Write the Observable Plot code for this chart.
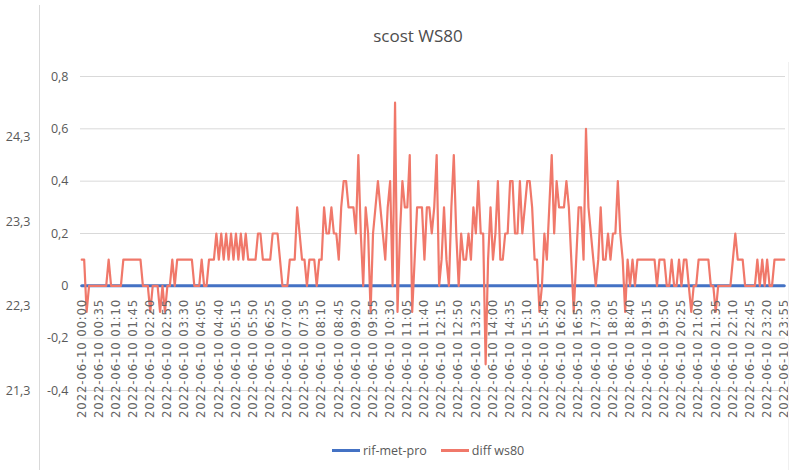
<!DOCTYPE html>
<html>
<head>
<meta charset="utf-8">
<script src="https://cdn.jsdelivr.net/npm/d3@7"></script>
<script src="https://cdn.jsdelivr.net/npm/@observablehq/plot@0.6"></script>
<style>
  body { margin: 0; background: #fff; }
  #wrap { position: relative; width: 798px; height: 470px; overflow: hidden; background: #fff; }
  #title { position: absolute; left: 0; width: 836px; top: 24px; text-align: center;
           font-family: "Open Sans", sans-serif; font-size: 17px; color: #4d4d4d; }
  #legend { position: absolute; top: 442px; left: 332px; font-family: "Open Sans", sans-serif;
            font-size: 12.5px; color: #595959; display: flex; align-items: center; }
  .sw { display: inline-block; width: 28px; height: 3px; margin-right: 3px; }
  .item { display: flex; align-items: center; margin-right: 14px; }
  #borderL { position: absolute; left: 39px; top: 5px; width: 0; height: 470px; border-left: 1px solid #d9d9d9; }
  #borderR { position: absolute; left: 788px; top: 62px; width: 0; height: 410px; border-left: 1px solid #f0f0f0; }
</style>
</head>
<body>
<div id="wrap">
  <div id="borderL"></div>
  <div id="borderR"></div>
  <div id="chart"></div>
  <div id="title">scost WS80</div>
  <div id="legend"></div>
</div>
<script>
// Series names and colours
const seriesNames = ["rif-met-pro", "diff ws80"];
const seriesColors = ["#4472C4", "#F0786A"];

// diff ws80, one value every 5 minutes (288 points, 2022-06-10 00:00 .. 23:55)
const diffWs80 = [
  0.1,0.1,-0.1,0,0,0,0,0,0,0,0,0.1,
  0,0,0,0,0,0.1,0.1,0.1,0.1,0.1,0.1,0.1,
  0.1,0,0,0,-0.1,0,0,0,-0.1,0,-0.1,0,
  0,0.1,0,0.1,0.1,0.1,0.1,0.1,0.1,0.1,0,0,
  0,0.1,0,0,0.1,0.1,0.1,0.2,0.1,0.2,0.1,0.2,
  0.1,0.2,0.1,0.2,0.1,0.2,0.1,0.2,0.1,0.1,0.1,0.1,
  0.2,0.2,0.1,0.1,0.1,0.1,0.2,0.2,0.2,0.1,0,0,
  0,0.1,0.1,0.1,0.3,0.2,0.1,0.1,0,0.1,0.1,0.1,
  0,0.1,0.1,0.3,0.2,0.2,0.3,0.2,0.2,0.1,0.3,0.4,
  0.4,0.3,0.3,0.3,0.2,0.5,0.2,0,0.3,0.2,-0.1,0.2,
  0.3,0.4,0.3,0.2,0.1,0.3,0.4,0,0.7,-0.1,0.2,0.4,
  0.3,0.3,0.5,-0.1,0.1,0.3,0.3,0.3,0.1,0.3,0.3,0.2,
  0.3,0.5,0,0.1,0.3,0.1,0,0.3,0.5,0.2,0,0.2,
  0.1,0.1,0.2,0.1,0.3,0.2,0.4,0.2,0.2,-0.3,0.1,0.3,
  0.1,0.2,0.4,0.1,0.1,0.2,0.2,0.4,0.4,0.2,0.2,0.4,
  0.2,0.3,0.4,0.4,0.3,0.1,0.1,-0.1,0,0.2,0.1,0.3,
  0.5,0.2,0.4,0.3,0.3,0.3,0.4,0.3,0.1,-0.1,0.1,0.3,
  0.3,0.1,0.6,0.3,0.2,0.1,0,0.1,0.3,0.1,0.1,0.2,
  0.1,0.2,0.2,0.4,0.2,0.1,-0.1,0.1,0,0.1,0,0.1,
  0.1,0.1,0.1,0.1,0.1,0.1,0.1,0,0.1,0.1,0.1,0,
  0,0.1,0,0,0.1,0,0.1,0.1,0,-0.1,0,0,
  0.1,0.1,0.1,0.1,0.1,0,0,-0.1,0,0,0,0,
  0,0,0.1,0.2,0.1,0.1,0.1,0,0,0,0,0,
  0.1,0,0.1,0,0.1,0,0,0.1,0.1,0.1,0.1,0.1
];

// rif-met-pro (reference line, 288 points)
const rifMetPro = [
  0,0,0,0,0,0,0,0,0,0,0,0,0,0,0,0,0,0,0,0,0,0,0,0,
  0,0,0,0,0,0,0,0,0,0,0,0,0,0,0,0,0,0,0,0,0,0,0,0,
  0,0,0,0,0,0,0,0,0,0,0,0,0,0,0,0,0,0,0,0,0,0,0,0,
  0,0,0,0,0,0,0,0,0,0,0,0,0,0,0,0,0,0,0,0,0,0,0,0,
  0,0,0,0,0,0,0,0,0,0,0,0,0,0,0,0,0,0,0,0,0,0,0,0,
  0,0,0,0,0,0,0,0,0,0,0,0,0,0,0,0,0,0,0,0,0,0,0,0,
  0,0,0,0,0,0,0,0,0,0,0,0,0,0,0,0,0,0,0,0,0,0,0,0,
  0,0,0,0,0,0,0,0,0,0,0,0,0,0,0,0,0,0,0,0,0,0,0,0,
  0,0,0,0,0,0,0,0,0,0,0,0,0,0,0,0,0,0,0,0,0,0,0,0,
  0,0,0,0,0,0,0,0,0,0,0,0,0,0,0,0,0,0,0,0,0,0,0,0,
  0,0,0,0,0,0,0,0,0,0,0,0,0,0,0,0,0,0,0,0,0,0,0,0,
  0,0,0,0,0,0,0,0,0,0,0,0,0,0,0,0,0,0,0,0,0,0,0,0
];

// category tick labels (every 7th point, 35 minutes apart)
const xTickLabels = [
  "2022-06-10 00:00","2022-06-10 00:35","2022-06-10 01:10","2022-06-10 01:45",
  "2022-06-10 02:20","2022-06-10 02:55","2022-06-10 03:30","2022-06-10 04:05",
  "2022-06-10 04:40","2022-06-10 05:15","2022-06-10 05:50","2022-06-10 06:25",
  "2022-06-10 07:00","2022-06-10 07:35","2022-06-10 08:10","2022-06-10 08:45",
  "2022-06-10 09:20","2022-06-10 09:55","2022-06-10 10:30","2022-06-10 11:05",
  "2022-06-10 11:40","2022-06-10 12:15","2022-06-10 12:50","2022-06-10 13:25",
  "2022-06-10 14:00","2022-06-10 14:35","2022-06-10 15:10","2022-06-10 15:45",
  "2022-06-10 16:20","2022-06-10 16:55","2022-06-10 17:30","2022-06-10 18:05",
  "2022-06-10 18:40","2022-06-10 19:15","2022-06-10 19:50","2022-06-10 20:25",
  "2022-06-10 21:00","2022-06-10 21:35","2022-06-10 22:10","2022-06-10 22:45",
  "2022-06-10 23:20","2022-06-10 23:55"
];
const xTickStep = 7;

// primary y axis ticks
const yTicks = [-0.4, -0.2, 0, 0.2, 0.4, 0.6, 0.8];
// secondary (left-most) axis labels
const y2Ticks = [24.3, 23.3, 22.3, 21.3];
const y2Min = 21.3, y2Max = 24.3;           // secondary range
const y2AtMin = -0.4, y2AtMax = 0.568;      // where they sit on primary axis

const fmt = v => v === 0 ? "0" : String(v).replace(".", ",");
const toPrimary = s => y2AtMin + (s - y2Min) * (y2AtMax - y2AtMin) / (y2Max - y2Min);

const chart = Plot.plot({
  width: 798,
  height: 470,
  marginLeft: 80,
  marginRight: 13,
  marginTop: 76,
  marginBottom: 80,
  style: { fontFamily: "Open Sans, sans-serif", fontSize: "12.5px", color: "#595959", background: "transparent" },
  x: { domain: [-0.5, 287.5], axis: null },
  y: { domain: [-0.4, 0.8], axis: null },
  marks: [
    Plot.ruleY(yTicks, { stroke: "#d9d9d9", strokeWidth: 1 }),
    Plot.axisY(yTicks, { tickSize: 0, tickPadding: 12, tickFormat: fmt, fontSize: 12.5 }),
    Plot.text(y2Ticks, { y: d => toPrimary(d), frameAnchor: "left", dx: -50, textAnchor: "end",
                          text: d => fmt(d), fontSize: 12.5, fill: "#595959" }),
    Plot.lineY(rifMetPro, { x: (d, i) => i, y: d => d, stroke: seriesColors[0], strokeWidth: 3 }),
    Plot.lineY(diffWs80, { x: (d, i) => i, y: d => d, stroke: seriesColors[1], strokeWidth: 2.2, strokeLinejoin: "round" }),
    Plot.text(xTickLabels, { x: (d, i) => i * xTickStep, y: () => 0, text: d => d, rotate: -90,
                              textAnchor: "end", lineAnchor: "middle", dy: 13,
                              fontFamily: "DejaVu Sans, sans-serif", fontSize: 11.8, fill: "#666" })
  ]
});
// stretch the rotated category labels a little, as in the reference
const textGroups = chart.querySelectorAll("g[aria-label='text']");
if (textGroups.length) textGroups[textGroups.length - 1].style.letterSpacing = "0.8px";
document.getElementById("chart").appendChild(chart);

const legend = document.getElementById("legend");
seriesNames.forEach((n, i) => {
  const it = document.createElement("div");
  it.className = "item";
  const sw = document.createElement("span");
  sw.className = "sw";
  sw.style.background = seriesColors[i];
  it.appendChild(sw);
  it.appendChild(document.createTextNode(n));
  legend.appendChild(it);
});
</script>
</body>
</html>
